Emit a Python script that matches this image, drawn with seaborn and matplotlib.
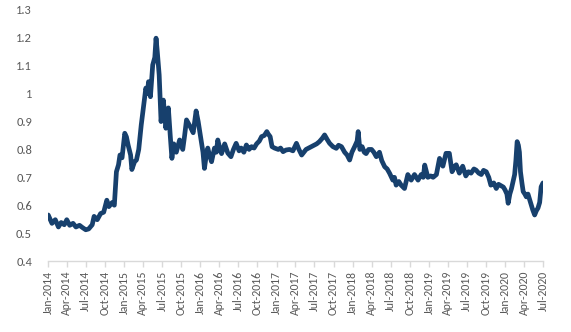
import matplotlib
matplotlib.use("Agg")
import matplotlib.pyplot as plt
import pandas as pd
import seaborn as sns
from matplotlib.ticker import FuncFormatter

# ---- data ----
dates = [
    # 2014
    "2014-01-02", "2014-01-20", "2014-02-05", "2014-02-20", "2014-03-05", "2014-03-20",
    "2014-04-01", "2014-04-15", "2014-05-01", "2014-05-15", "2014-06-01", "2014-06-15",
    "2014-07-01", "2014-07-15", "2014-08-01", "2014-08-10", "2014-08-25", "2014-09-10",
    "2014-09-25", "2014-10-10", "2014-10-20", "2014-11-05", "2014-11-15", "2014-11-25",
    "2014-12-05", "2014-12-12", "2014-12-22",
    # 2015
    "2015-01-04", "2015-01-12", "2015-01-20", "2015-02-01", "2015-02-07", "2015-02-20",
    "2015-03-01", "2015-03-12", "2015-03-24", "2015-04-05", "2015-04-15", "2015-04-22",
    "2015-04-28", "2015-05-07", "2015-05-18", "2015-05-28", "2015-06-03", "2015-06-09",
    "2015-06-18", "2015-06-27", "2015-07-08", "2015-07-20", "2015-08-01", "2015-08-10",
    "2015-08-18", "2015-08-27", "2015-09-08", "2015-09-24", "2015-10-09", "2015-10-18",
    "2015-10-27", "2015-11-15", "2015-11-28", "2015-12-12", "2015-12-22",
    # 2016
    "2016-01-06", "2016-01-14", "2016-01-21", "2016-01-28", "2016-02-06", "2016-02-14",
    "2016-02-24", "2016-03-09", "2016-03-18", "2016-03-25", "2016-04-05", "2016-04-12",
    "2016-04-27", "2016-05-12", "2016-05-27", "2016-06-08", "2016-06-21", "2016-07-05",
    "2016-07-15", "2016-07-28", "2016-08-09", "2016-08-22", "2016-09-03", "2016-09-15",
    "2016-09-27", "2016-10-10", "2016-10-21", "2016-11-03", "2016-11-15", "2016-11-22",
    "2016-12-01", "2016-12-10", "2016-12-22",
    # 2017
    "2017-01-09", "2017-01-20", "2017-02-01", "2017-02-15", "2017-03-04", "2017-03-20",
    "2017-04-06", "2017-04-18", "2017-05-01", "2017-05-22", "2017-06-01", "2017-06-15",
    "2017-07-01", "2017-07-12", "2017-07-25", "2017-08-08", "2017-08-19", "2017-09-01",
    "2017-09-12", "2017-09-28", "2017-10-14", "2017-10-25", "2017-11-08", "2017-11-23",
    "2017-12-05", "2017-12-17", "2017-12-28",
    # 2018
    "2018-01-10", "2018-01-22", "2018-01-27", "2018-02-04", "2018-02-15", "2018-02-25",
    "2018-03-06", "2018-03-18", "2018-04-01", "2018-04-12", "2018-04-24", "2018-05-09",
    "2018-05-20", "2018-06-03", "2018-06-15", "2018-06-27", "2018-07-12", "2018-07-20",
    "2018-07-28", "2018-08-10", "2018-08-21", "2018-09-06", "2018-09-22", "2018-10-08",
    "2018-10-24", "2018-11-10", "2018-11-25", "2018-12-05", "2018-12-12", "2018-12-27",
    # 2019
    "2019-01-10", "2019-01-21", "2019-02-06", "2019-02-21", "2019-03-09", "2019-03-24",
    "2019-04-09", "2019-04-22", "2019-05-05", "2019-05-12", "2019-05-27", "2019-06-12",
    "2019-06-27", "2019-07-10", "2019-07-22", "2019-08-05", "2019-08-15", "2019-08-28",
    "2019-09-09", "2019-09-20", "2019-10-03", "2019-10-15", "2019-10-25", "2019-11-08",
    "2019-11-20", "2019-12-01", "2019-12-13", "2019-12-24",
    # 2020
    "2020-01-01", "2020-01-10", "2020-01-16", "2020-01-24", "2020-02-01", "2020-02-10",
    "2020-02-16", "2020-02-22", "2020-02-28", "2020-03-05", "2020-03-10", "2020-03-15",
    "2020-03-22", "2020-03-28", "2020-04-05", "2020-04-12", "2020-04-20", "2020-04-28",
    "2020-05-06", "2020-05-13", "2020-05-22", "2020-05-30", "2020-06-07", "2020-06-15",
    "2020-06-22", "2020-07-01",
]

values = [
    # 2014
    0.565, 0.535, 0.548, 0.522, 0.538, 0.530,
    0.548, 0.528, 0.535, 0.522, 0.528, 0.520,
    0.512, 0.515, 0.530, 0.560, 0.548, 0.570,
    0.575, 0.618, 0.595, 0.610, 0.600, 0.720,
    0.745, 0.780, 0.770,
    # 2015
    0.858, 0.845, 0.816, 0.780, 0.728, 0.756,
    0.762, 0.800, 0.888, 0.960, 1.020, 1.000,
    1.043, 0.989, 1.103, 1.130, 1.199, 1.150,
    1.067, 0.900, 0.977, 0.876, 0.949, 0.850,
    0.768, 0.820, 0.790, 0.834, 0.800, 0.850,
    0.906, 0.880, 0.860, 0.938, 0.900,
    # 2016
    0.828, 0.790, 0.732, 0.770, 0.805, 0.780,
    0.756, 0.805, 0.790, 0.834, 0.800, 0.785,
    0.820, 0.787, 0.774, 0.800, 0.822, 0.795,
    0.805, 0.790, 0.816, 0.800, 0.810, 0.805,
    0.820, 0.830, 0.846, 0.850, 0.864, 0.855,
    0.846, 0.810, 0.805,
    # 2017
    0.800, 0.805, 0.792, 0.798, 0.800, 0.795,
    0.822, 0.800, 0.780, 0.800, 0.804, 0.810,
    0.816, 0.820, 0.828, 0.840, 0.852, 0.835,
    0.822, 0.810, 0.804, 0.815, 0.810, 0.790,
    0.780, 0.762, 0.790,
    # 2018
    0.810, 0.830, 0.864, 0.800, 0.810, 0.790,
    0.785, 0.800, 0.800, 0.790, 0.774, 0.790,
    0.760, 0.738, 0.730, 0.714, 0.690, 0.700,
    0.672, 0.685, 0.672, 0.660, 0.710, 0.690,
    0.710, 0.690, 0.710, 0.700, 0.744, 0.700,
    # 2019
    0.705, 0.700, 0.710, 0.768, 0.740, 0.786,
    0.786, 0.720, 0.740, 0.745, 0.715, 0.740,
    0.705, 0.720, 0.715, 0.730, 0.726, 0.715,
    0.710, 0.725, 0.720, 0.700, 0.672, 0.680,
    0.660, 0.675, 0.670, 0.665,
    # 2020
    0.655, 0.640, 0.607, 0.640, 0.660, 0.690,
    0.710, 0.760, 0.828, 0.815, 0.790, 0.720,
    0.680, 0.649, 0.640, 0.630, 0.640, 0.620,
    0.600, 0.583, 0.565, 0.580, 0.590, 0.610,
    0.666, 0.680,
]

y_ticks = [0.4, 0.5, 0.6, 0.7, 0.8, 0.9, 1.0, 1.1, 1.2, 1.3]
x_tick_start = "2014-01-01"
x_tick_end = "2020-07-01"

# ---- plotting ----
sns.set_style("white")
plt.rcParams["font.family"] = ["Carlito", "Lato", "DejaVu Sans"]

df = pd.DataFrame({"date": pd.to_datetime(dates), "value": values})

fig = plt.figure(figsize=(5.71, 3.32), dpi=100)
ax = fig.add_axes([48 / 571, 71 / 332, 495 / 571, 251 / 332])

sns.lineplot(data=df, x="date", y="value", ax=ax, color="#17406D",
             linewidth=3.4, solid_joinstyle="round", solid_capstyle="round")

ax.set_ylim(0.4, 1.3)
ax.set_yticks(y_ticks)
ax.yaxis.set_major_formatter(FuncFormatter(lambda v, p: f"{v:g}"))

xt = pd.date_range(x_tick_start, x_tick_end, freq="QS")
ax.set_xlim(pd.Timestamp(x_tick_start), pd.Timestamp(x_tick_end))
ax.set_xticks(xt)
ax.set_xticklabels([d.strftime("%b-%Y") for d in xt], rotation=90)

ax.set_xlabel("")
ax.set_ylabel("")

for s in ["top", "right", "left"]:
    ax.spines[s].set_visible(False)
ax.spines["bottom"].set_color("#d9d9d9")
ax.spines["bottom"].set_linewidth(1.0)

ax.tick_params(axis="x", which="major", bottom=True, length=4, width=1.0,
               color="#d9d9d9", labelsize=8.5, labelcolor="#595959", pad=3)
ax.tick_params(axis="y", left=False, labelsize=9, labelcolor="#595959", pad=8)
ax.grid(False)

fig.savefig("out.png", dpi=100)
